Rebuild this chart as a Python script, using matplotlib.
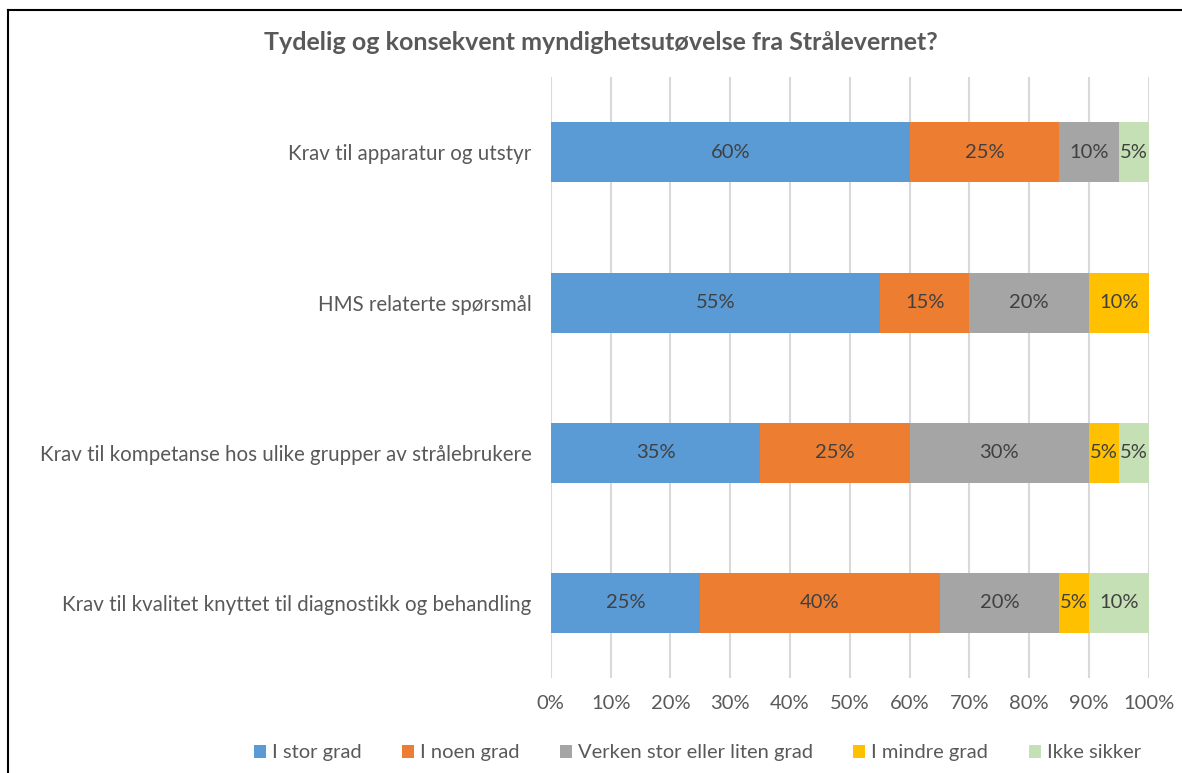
import numpy as np
import matplotlib.pyplot as plt
from matplotlib.ticker import PercentFormatter

categories = ['Krav til apparatur og utstyr',
              'HMS relaterte spørsmål',
              'Krav til kompetanse hos ulike grupper av strålebrukere',
              'Krav til kvalitet knyttet til diagnostikk og behandling']
series = ['I stor grad', 'I noen grad', 'Verken stor eller liten grad',
          'I mindre grad', 'Ikke sikker']
values = {
    'I stor grad': [60, 55, 35, 25],
    'I noen grad': [25, 15, 25, 40],
    'Verken stor eller liten grad': [10, 20, 30, 20],
    'I mindre grad': [0, 10, 5, 5],
    'Ikke sikker': [5, 0, 5, 10],
}
colors = ['#5B9BD5', '#ED7D31', '#A5A5A5', '#FFC000', '#C5E0B4']

plt.rcParams['font.family'] = ['Lato', 'DejaVu Sans']
txt = '#595959'

fig = plt.figure(figsize=(11.82, 7.73), dpi=100)
ax = fig.add_axes([0.466, 0.123, 0.506, 0.777])

y = np.arange(len(categories))
left = np.zeros(len(categories))
for s, c in zip(series, colors):
    v = np.array(values[s], dtype=float)
    ax.barh(y, v, left=left, height=0.4, color=c, label=s, zorder=3)
    for yi, li, vi in zip(y, left, v):
        if vi > 0:
            ax.text(li + vi / 2, yi, f'{vi:.0f}%', ha='center', va='center',
                    fontsize=14.5, color='#404040', zorder=4)
    left += v

ax.set_xlim(0, 100)
ax.set_ylim(len(categories) - 0.5, -0.5)
ax.set_xticks(np.arange(0, 101, 10))
ax.xaxis.set_major_formatter(PercentFormatter(decimals=0))
ax.set_yticks(y)
ax.set_yticklabels(categories)
ax.tick_params(axis='both', length=0, labelsize=14.5, colors=txt)
ax.tick_params(axis='y', labelsize=14.8)
ax.tick_params(axis='x', pad=12)
ax.tick_params(axis='y', pad=14)
ax.grid(axis='x', color='#D9D9D9', linewidth=1.5, zorder=0)
for sp in ax.spines.values():
    sp.set_visible(False)

fig.text(0.508, 0.945, 'Tydelig og konsekvent myndighetsutøvelse fra Strålevernet?',
         ha='center', va='center', fontsize=18, fontweight='bold', color=txt)

fig.legend(loc='center', bbox_to_anchor=(0.59, 0.026), ncol=5, frameon=False,
           fontsize=14.5, handlelength=0.6, handleheight=0.6, handletextpad=0.3,
           columnspacing=2.0, labelcolor=txt)

fig.add_artist(plt.Line2D([0.007, 0.007], [0, 0.987], color='black', linewidth=1.5,
                          transform=fig.transFigure))
fig.add_artist(plt.Line2D([0.007, 1], [0.987, 0.987], color='black', linewidth=1.5,
                          transform=fig.transFigure))

fig.savefig('out.png', dpi=100)
